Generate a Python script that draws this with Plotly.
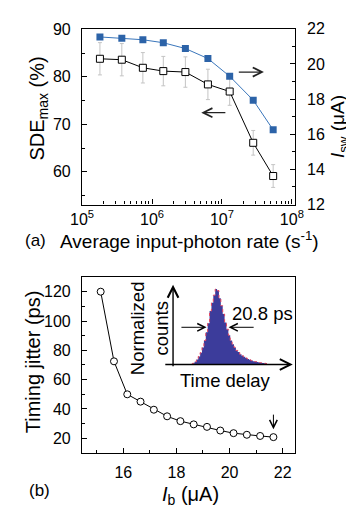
import plotly.graph_objects as go

W, H = 354, 511
FONT = "Liberation Sans, Arial, Helvetica, sans-serif"

# (a) rate dependence
photon_rate = [1.8e5, 3.7e5, 7.4e5, 1.45e6, 3.0e6, 6.3e6, 1.29e7, 2.8e7, 5.4e7]
sde_max = [83.8, 83.6, 81.9, 81.2, 81.0, 78.4, 76.9, 66.1, 59.1]
sde_err = [3.4, 3.4, 3.2, 3.1, 3.2, 3.2, 2.9, 2.6, 2.4]
i_sw = [21.54, 21.47, 21.38, 21.21, 20.88, 20.31, 19.30, 17.94, 16.25]
rate_ticks = [1e5, 1e6, 1e7, 1e8]
rate_labels = ["10<sup>5</sup>", "10<sup>6</sup>", "10<sup>7</sup>", "10<sup>8</sup>"]

# (b) jitter vs bias current
i_bias = [15.15, 15.65, 16.15, 16.65, 17.15, 17.65, 18.15, 18.65, 19.15,
          19.65, 20.15, 20.65, 21.15, 21.65]
jitter = [120, 72.5, 50, 45, 39.5, 35, 31.7, 29.5, 27.8, 25.3, 23.5, 22.4,
          21.6, 20.8]

# inset histogram (ps relative to peak, normalized counts)
hist_t = [-27, -25, -23, -21, -19, -17, -15, -13, -11, -9, -7, -5, -3, -1,
          1, 3, 5, 7, 9, 11, 13, 15, 17, 19, 21, 23, 25, 27, 29, 31, 33, 35,
          37, 39, 41, 43, 45, 47, 49, 51, 53]
hist_counts = [0.0, 0.01, 0.03, 0.06, 0.10, 0.15, 0.22, 0.31, 0.42, 0.54,
               0.70, 0.81, 0.91, 0.99, 0.97, 0.87, 0.77, 0.66, 0.55, 0.46,
               0.38, 0.31, 0.26, 0.22, 0.18, 0.16, 0.13, 0.11, 0.095, 0.08,
               0.065, 0.055, 0.045, 0.038, 0.032, 0.026, 0.02, 0.016, 0.012,
               0.009, 0.006]

# minor ticks of the log axis (2..9 in every decade)
log_minor = [k * 10 ** e for e in (5, 6, 7) for k in range(2, 10)]


def px(x):
    return x / W


def py(y):
    return 1 - y / H


def axis_style(**kw):
    d = dict(
        showline=True, linecolor="black", linewidth=1.3, mirror=True,
        ticks="inside", ticklen=5, tickwidth=1, tickcolor="black",
        showgrid=False, zeroline=False,
        tickfont=dict(family=FONT, size=16, color="black"),
    )
    d.update(kw)
    return d


def label(text, x, y, size=20, angle=0):
    return dict(text=text, x=px(x), y=py(y), xref="paper", yref="paper",
                showarrow=False, textangle=angle, xanchor="center",
                yanchor="middle", font=dict(family=FONT, size=size, color="black"))


def arrow(x, y, ax, ay, color="#222", width=1.2):
    return dict(x=px(x), y=py(y), xref="paper", yref="paper", ax=ax, ay=ay,
                axref="pixel", ayref="pixel", text="", showarrow=True,
                arrowhead=5, arrowsize=1.5, arrowwidth=width, arrowcolor=color)


fig = go.Figure()

fig.add_trace(go.Scatter(
    x=photon_rate, y=sde_max, xaxis="x", yaxis="y", mode="lines+markers",
    line=dict(color="black", width=1),
    marker=dict(symbol="square", size=7, color="white",
                line=dict(color="black", width=1)),
    error_y=dict(type="data", array=sde_err, color="#c4c4c4", thickness=1, width=2),
))
fig.add_trace(go.Scatter(
    x=photon_rate, y=i_sw, xaxis="x", yaxis="y2", mode="lines+markers",
    line=dict(color="#3a76bb", width=1),
    marker=dict(symbol="square", size=7, color="#2c63a8"),
))
fig.add_trace(go.Scatter(
    x=i_bias, y=jitter, xaxis="x2", yaxis="y3", mode="lines+markers",
    line=dict(color="black", width=1),
    marker=dict(symbol="circle", size=7, color="white",
                line=dict(color="black", width=1)),
))
fig.add_trace(go.Scatter(
    x=hist_t, y=hist_counts, xaxis="x3", yaxis="y4", mode="lines",
    line=dict(color="#e5455e", width=1, dash="dot", shape="hvh"),
    fill="tozeroy", fillcolor="#3c3c9b",
))

top_x = [px(66), px(292)]
fig.update_layout(
    width=W, height=H, showlegend=False,
    margin=dict(l=0, r=0, t=0, b=0),
    paper_bgcolor="white", plot_bgcolor="white",
    xaxis=axis_style(type="log", domain=top_x, anchor="y", range=[5, 8.04],
                     tickmode="array", tickvals=rate_ticks, ticktext=rate_labels,
                     ticklabelstandoff=0,
                     minor=dict(ticks="inside", ticklen=3, tickmode="array",
                                tickvals=log_minor, tickcolor="black",
                                showgrid=False)),
    yaxis=axis_style(domain=[py(195), py(13.3)], anchor="x", range=[53.1, 90.1],
                     tickvals=[60, 70, 80, 90], ticklabelstandoff=7,
                     minor=dict(ticks="inside", ticklen=3, dtick=5,
                                tickcolor="black", showgrid=False)),
    yaxis2=axis_style(overlaying="y", side="right", anchor="x", range=[12, 22],
                      tickvals=[12, 14, 16, 18, 20, 22], mirror=False,
                      ticklabelstandoff=8,
                      minor=dict(ticks="inside", ticklen=3, dtick=1,
                                 tickcolor="black", showgrid=False)),
    xaxis2=axis_style(domain=top_x, anchor="y3", range=[14.45, 22.45],
                      tickvals=[16, 18, 20, 22], ticklabelstandoff=5,
                      minor=dict(ticks="inside", ticklen=3, dtick=1, tick0=15,
                                 tickcolor="black", showgrid=False)),
    yaxis3=axis_style(domain=[py(452), py(270)], anchor="x2", range=[10, 130],
                      tickvals=[20, 40, 60, 80, 100, 120], ticklabelstandoff=7,
                      minor=dict(ticks="inside", ticklen=3, dtick=10,
                                 tickcolor="black", showgrid=False)),
    xaxis3=dict(domain=[px(163), px(288)], anchor="y4", range=[-46.5, 78.5],
                visible=False),
    yaxis4=dict(domain=[py(360), py(277.8)], anchor="x3", range=[0, 1.05],
                visible=False),
)

annotations = [
    label("SDE<sub>max</sub> (%)", 20, 96, angle=-90),
    label("<i>I</i><sub>sw</sub> (μA)", 339, 114, size=19, angle=-90),
    label("Average input-photon rate (s<sup>-1</sup>)", 180, 232, size=19),
    label("(a)", 17, 232, size=17),
    label("Timing jitter (ps)", 14, 358, angle=-90),
    label("<i>I</i><sub>b</sub> (μA)", 181, 496),
    label("(b)", 21, 491, size=17),
    label("Normalized<br>counts", 137, 323, size=18.5, angle=-90),
    label("Time delay", 218, 377, size=18.5),
    label("20.8 ps", 258, 308, size=18.5),
    arrow(259.3, 58, -26.6, 0),
    arrow(192.7, 100, 25.6, 0),
    arrow(198.3, 322, -26.6, 0, color="black", width=1),
    arrow(221.7, 322, 26.6, 0, color="black", width=1),
    arrow(162.7, 278, 0, 83, color="black", width=1.4),
    arrow(290, 360.5, -129, 0, color="black", width=1.4),
    dict(x=i_bias[-1], y=jitter[-1], xref="x2", yref="y3", ax=0, ay=-24,
         text="", showarrow=True, arrowhead=5, arrowsize=1.5, arrowwidth=1,
         arrowcolor="black", standoff=8),
]
fig.update_layout(annotations=annotations)

fig.write_html("out.html")
